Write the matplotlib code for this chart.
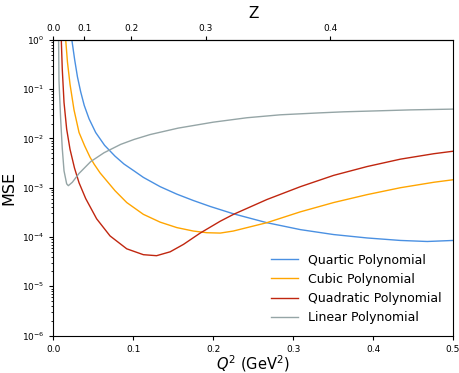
import numpy as np
import matplotlib.pyplot as plt

# Q^2 (GeV^2) and MSE
q2_quartic = [0.0230, 0.0265, 0.030, 0.034, 0.0385, 0.0445, 0.0528, 0.064, 0.077, 0.0883, 0.1009,
              0.1125, 0.1335, 0.1544, 0.175, 0.196, 0.2253, 0.267, 0.309, 0.3506, 0.3925, 0.4342,
              0.4677, 0.5]
mse_quartic = [1.0, 0.398, 0.178, 0.0891, 0.0468, 0.0251, 0.0132, 0.00724, 0.00437, 0.00302,
               0.00219, 0.00162, 0.00105, 0.00074, 0.00055, 0.000417, 0.000295, 0.000195,
               0.000141, 0.000112, 9.55e-5, 8.5e-5, 8.1e-5, 8.5e-5]

q2_cubic = [0.0153, 0.0175, 0.0207, 0.0257, 0.032, 0.039, 0.0457, 0.0508, 0.0583, 0.077, 0.0917,
            0.1125, 0.1335, 0.1544, 0.175, 0.192, 0.2087, 0.225, 0.267, 0.309, 0.3506, 0.3925,
            0.4342, 0.476, 0.5]
mse_cubic = [1.0, 0.355, 0.126, 0.038, 0.0132, 0.00708, 0.00417, 0.00302, 0.002, 0.00087, 0.0005,
             0.000288, 0.0002, 0.000155, 0.000132, 0.000122, 0.00012, 0.000132, 0.000195,
             0.000324, 0.0005, 0.000724, 0.001, 0.00129, 0.00145]

q2_quadratic = [0.0098, 0.011, 0.0132, 0.0165, 0.0207, 0.0263, 0.032, 0.0403, 0.054, 0.0708,
                0.0917, 0.1125, 0.129, 0.146, 0.1627, 0.1836, 0.2087, 0.2253, 0.267, 0.309,
                0.3506, 0.3925, 0.4342, 0.476, 0.5]
mse_quadratic = [1.0, 0.257, 0.0537, 0.0155, 0.00603, 0.00251, 0.00126, 0.000603, 0.000234,
                 0.000105, 5.75e-5, 4.37e-5, 4.17e-5, 5.0e-5, 7.08e-5, 0.00012, 0.000209,
                 0.000288, 0.000575, 0.00105, 0.00178, 0.00269, 0.0038, 0.0049, 0.0055]

q2_linear = [0.0064, 0.0069, 0.009, 0.011, 0.0132, 0.0165, 0.0186, 0.0236, 0.032, 0.0466, 0.0633,
             0.0842, 0.1009, 0.121, 0.156, 0.2, 0.242, 0.284, 0.334, 0.363, 0.405, 0.447, 0.5]
mse_linear = [1.0, 0.148, 0.0245, 0.0063, 0.0022, 0.0012, 0.0011, 0.00129, 0.00195, 0.00339,
              0.00513, 0.00759, 0.00955, 0.012, 0.0162, 0.0214, 0.0263, 0.0302, 0.0331, 0.0347,
              0.0363, 0.038, 0.0394]

tcut = 4 * 0.13957**2


def q2_to_z(q2):
    q2 = np.clip(np.asarray(q2, dtype=float), -tcut * 0.999, None)
    a = np.sqrt(tcut + q2)
    b = np.sqrt(tcut)
    return (a - b) / (a + b)


def z_to_q2(z):
    z = np.clip(np.asarray(z, dtype=float), -0.999, 0.999)
    return tcut * 4 * z / (1 - z)**2


fig = plt.figure(figsize=(4.59, 3.73), dpi=100)
ax = fig.add_axes([0.1165, 0.1005, 0.8705, 0.7925])

ax.plot(q2_quartic, mse_quartic, color='#4a90e2', lw=1.0, label='Quartic Polynomial')
ax.plot(q2_cubic, mse_cubic, color='#ffa500', lw=1.0, label='Cubic Polynomial')
ax.plot(q2_quadratic, mse_quadratic, color='#c0260f', lw=1.0, label='Quadratic Polynomial')
ax.plot(q2_linear, mse_linear, color='#95a5a6', lw=1.0, label='Linear Polynomial')

ax.set_yscale('log')
ax.set_xlim(0, 0.5)
ax.set_ylim(1e-6, 1)
ax.tick_params(labelsize=6.5, length=3)
ax.tick_params(which='minor', length=1.8)
ax.set_xlabel('$Q^2$ (GeV$^2$)', fontsize=10.5, labelpad=0)
ax.set_ylabel('MSE', fontsize=11.5, labelpad=4)

sec = ax.secondary_xaxis('top', functions=(q2_to_z, z_to_q2))
sec.set_xticks([0.0, 0.1, 0.2, 0.3, 0.4])
sec.tick_params(labelsize=6.5, length=3, pad=2)
sec.set_xlabel('Z', fontsize=11, labelpad=4)

ax.legend(loc='lower right', frameon=False, fontsize=9, handlelength=2.2)

fig.savefig('out.png', dpi=100)
